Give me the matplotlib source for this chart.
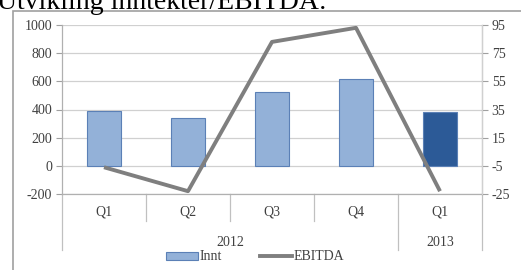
import matplotlib.pyplot as plt
import matplotlib.patches as mpatches
from matplotlib.lines import Line2D
import numpy as np

plt.rcParams['font.family'] = ['Liberation Serif', 'DejaVu Serif']
plt.rcParams['axes.unicode_minus'] = False

quarters = ['Q1', 'Q2', 'Q3', 'Q4', 'Q1']
years = ['2012', '2013']
innt = [390, 340, 525, 615, 385]
ebitda = [-6, -23, 83, 93, -23]
left_ticks = [-200, 0, 200, 400, 600, 800, 1000]
right_ticks = [-25, -5, 15, 35, 55, 75, 95]

light = '#93b1d8'
dark = '#2c5a97'
edge = '#5b80b6'
grid = '#d0d0d0'
txt = '#404040'

fig = plt.figure(figsize=(5.21, 2.7), dpi=100)
W, H = 521, 270

# title, partly cut at the top
fig.text(-3 / W, 1 - 9 / H, 'Utvikling inntekter/EBITDA:', fontsize=20,
         va='baseline', ha='left', color='black')

# chart frame
fig.patches.append(mpatches.Rectangle((13 / W, -0.1), 1.2, 1 - 11 / H + 0.1,
                                      transform=fig.transFigure, fill=False,
                                      edgecolor='#a0a0a0', linewidth=1.2))

ax = fig.add_axes([62 / W, 1 - 194 / H, 420 / W, 169 / H])
x = np.arange(len(quarters))
colors = [light] * 4 + [dark]
ax.bar(x, innt, width=0.4, color=colors, edgecolor=edge, linewidth=0.8, zorder=2)
ax.set_ylim(-200, 1000)
ax.set_xlim(-0.5, len(quarters) - 0.5)
ax.set_yticks(left_ticks)
ax.yaxis.grid(True, color=grid, linewidth=0.9, zorder=0)
ax.set_axisbelow(True)
ax.tick_params(axis='y', labelsize=10, colors=txt, length=4, width=0.8,
               color='#a0a0a0', pad=3)
ax.set_xticks(x)
ax.set_xticklabels(quarters)
ax.tick_params(axis='x', length=0, labelsize=10, colors=txt, pad=8)
ax.spines['top'].set_visible(False)
for s in ['left', 'right', 'bottom']:
    ax.spines[s].set_color('#b0b0b0')
    ax.spines[s].set_linewidth(0.9)

# category separators
tr = ax.get_xaxis_transform()
for b in [0.5, 1.5, 2.5]:
    ax.plot([b, b], [0, -0.16], transform=tr, color='#c0c0c0', lw=0.9, clip_on=False)
for b in [-0.5, 3.5, 4.5]:
    ax.plot([b, b], [0, -0.33], transform=tr, color='#c0c0c0', lw=0.9, clip_on=False)
ax.text(1.5, -0.285, years[0], transform=tr, ha='center', va='center',
        fontsize=10, color=txt)
ax.text(4, -0.285, years[1], transform=tr, ha='center', va='center',
        fontsize=10, color=txt)

ax2 = ax.twinx()
ax2.plot(x, ebitda, color='#7f7f7f', linewidth=2.8, solid_capstyle='butt', zorder=3)
ax2.set_ylim(-25, 95)
ax2.set_yticks(right_ticks)
ax2.tick_params(axis='y', labelsize=10, colors=txt, length=4, width=0.8,
                color='#a0a0a0', pad=3)
for s in ['top', 'left', 'bottom']:
    ax2.spines[s].set_visible(False)
ax2.spines['right'].set_color('#d0d0d0')

handles = [mpatches.Patch(facecolor=light, edgecolor=edge, linewidth=0.8, label='Innt'),
           Line2D([], [], color='#7f7f7f', linewidth=2.8, label='EBITDA')]
fig.legend(handles=handles, loc='center', bbox_to_anchor=(255 / W, 1 - 257 / H),
           ncol=2, frameon=False, fontsize=10, handlelength=2.3, handleheight=0.5,
           handletextpad=0.1, columnspacing=2.8, labelcolor=txt)

fig.savefig('out.png', dpi=100)
